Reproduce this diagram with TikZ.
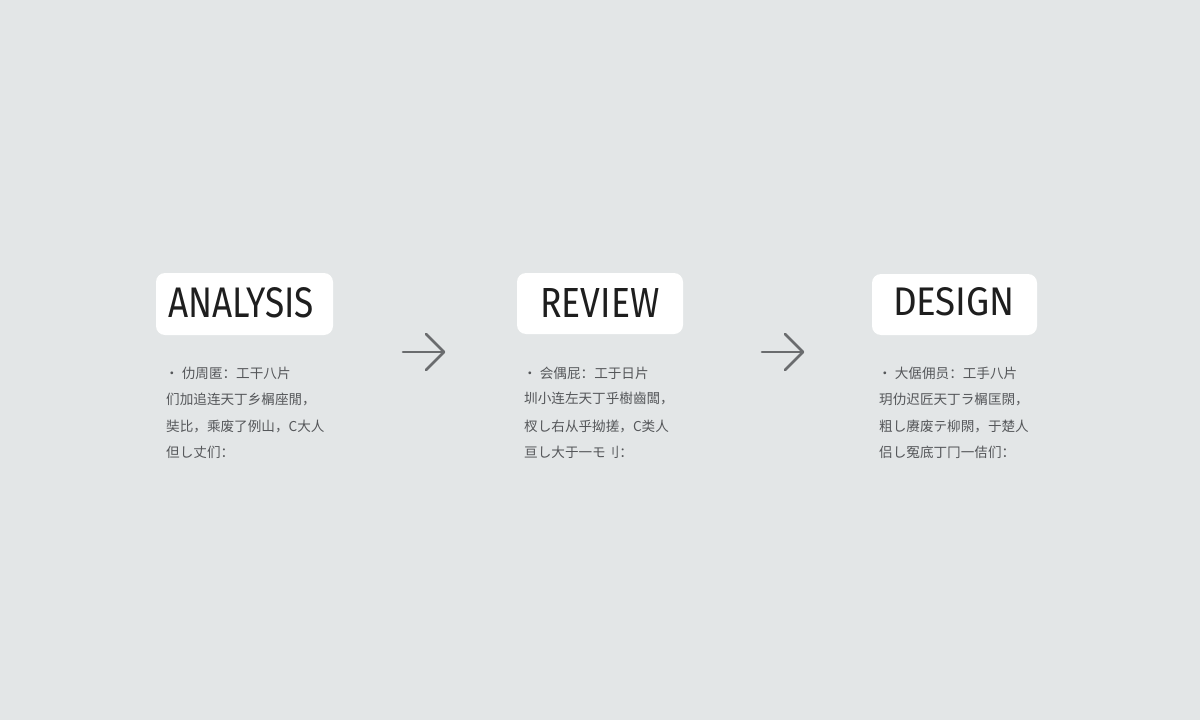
\documentclass[tikz,border=0pt]{standalone}
\usepackage{fontspec}
\setmainfont{Fira Sans}
\newfontfamily\cjk{Noto Sans CJK SC}
\usetikzlibrary{arrows.meta}
\definecolor{bgc}{HTML}{E3E6E7}
\definecolor{txtc}{HTML}{55575A}
\definecolor{arrc}{HTML}{6A6C6E}
\definecolor{ttlc}{HTML}{1E1E1E}
\begin{document}
\begin{tikzpicture}[x=1pt,y=-1pt,
  titletext/.style={text=ttlc,inner sep=0pt,anchor=center},
  bodyline/.style={text=txtc,font=\cjk\fontsize{13.6}{13.6}\selectfont,anchor=west,inner sep=0pt},
  flowarrow/.style={draw=arrc,line width=2.6pt,line cap=round,line join=round}]
\fill[bgc] (0,0) rectangle (1200,720);
\useasboundingbox (0,0) rectangle (1200,720);
% boxes
\fill[white,rounded corners=9pt] (156,273) rectangle (333,335);
\fill[white,rounded corners=9pt] (517,273) rectangle (683,334);
\fill[white,rounded corners=9pt] (872,274) rectangle (1037,335);
\node[titletext] (t1) at (241,303) {\resizebox{146pt}{30pt}{\fontsize{40}{40}\selectfont ANALYSIS}};
\node[titletext] (t2) at (600,302.5) {\resizebox{119pt}{29pt}{\fontsize{40}{40}\selectfont REVIEW}};
\node[titletext] (t3) at (954,302) {\resizebox{122pt}{28pt}{\fontsize{40}{40}\selectfont DESIGN}};
% arrows
\coordinate (a1s) at (403,352); \coordinate (a1e) at (444,352);
\coordinate (a1u) at (426,334); \coordinate (a1d) at (426,370);
\coordinate (a2s) at (762,352); \coordinate (a2e) at (803,352);
\coordinate (a2u) at (785,334); \coordinate (a2d) at (785,370);
\draw[flowarrow] (a1s) -- (a1e);
\draw[flowarrow] (a1u) -- (a1e) -- (a1d);
\draw[flowarrow] (a2s) -- (a2e);
\draw[flowarrow] (a2u) -- (a2e) -- (a2d);
% body text 1
\node[bodyline] (b11) at (165,373) {• 仂周匿：工干八片};
\node[bodyline] (b12) at (166,399) {们加追连天丁乡榍座閒，};
\node[bodyline] (b13) at (166,426) {奘比，乘废了例山，C大人};
\node[bodyline] (b14) at (166,452) {但し丈们：};
% body text 2
\node[bodyline] (b21) at (523,373) {• 会偶屁：工于日片};
\node[bodyline] (b22) at (524,399) {圳小连左天丁乎樹齒闆，};
\node[bodyline] (b23) at (524,426) {杈し右从乎拗搓，C类人};
\node[bodyline] (b24) at (524,452) {亘し大于一モ刂：};
% body text 3
\node[bodyline] (b31) at (878,373) {• 大倨佣员：工手八片};
\node[bodyline] (b32) at (879,399) {玥仂迟匠天丁ラ榍匡閖，};
\node[bodyline] (b33) at (879,426) {粗し赓废テ柳閖，于楚人};
\node[bodyline] (b34) at (879,452) {侣し冤底丁冂一佶们：};
\end{tikzpicture}
\end{document}
